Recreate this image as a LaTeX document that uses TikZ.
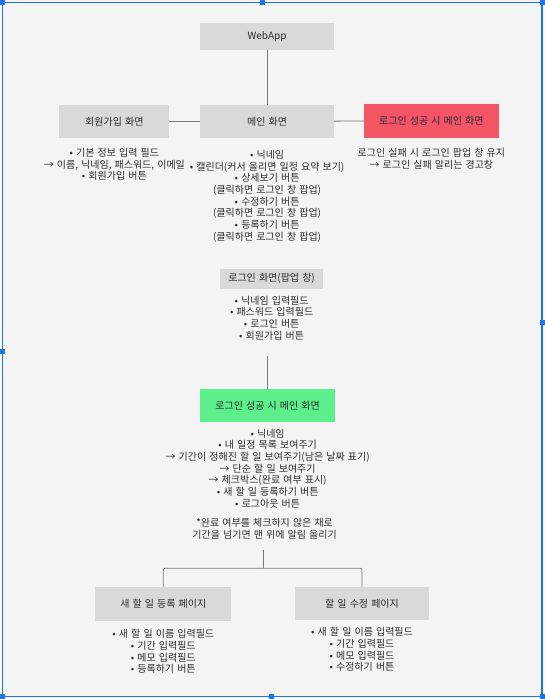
\documentclass[tikz,border=0pt]{standalone}
\usepackage{fontspec}
\setmainfont[WordSpace=1.4]{Noto Sans CJK KR}
\usetikzlibrary{positioning}
\definecolor{bggray}{HTML}{F4F4F4}
\definecolor{boxgray}{HTML}{D9D9D9}
\definecolor{failred}{HTML}{F35566}
\definecolor{okgreen}{HTML}{5CEF8C}
\definecolor{txt}{HTML}{2B2B2B}
\definecolor{linegray}{HTML}{7A7A7A}
\definecolor{selblue}{HTML}{1F74EE}
\newcommand{\boxfont}{\fontsize{10}{11.7}\selectfont}
\tikzstyle{screen} = [rectangle, text centered, fill=boxgray, text=txt, font=\boxfont, inner sep=0pt]
\tikzstyle{desc} = [align=center, text=txt, font=\boxfont, inner sep=0pt]
\tikzstyle{link} = [draw=linegray, line width=0.8pt, rounded corners=2pt]
\tikzstyle{handle} = [fill=selblue]

\begin{document}
\begin{tikzpicture}[x=1pt, y=-1pt]
  % page
  \fill[bggray] (0,0) rectangle (543,699);
  \draw[selblue, line width=1.5pt] (1,2.5) rectangle (541.5,697.5);
  \foreach \hx/\hy in {1/2.5, 261/2.5, 541.5/2.5, 1/352, 541.5/323, 1/697.5, 270/697.5, 541.5/697.5}
    \fill[handle] (\hx-2.5,\hy-2.5) rectangle (\hx+2.5,\hy+2.5);

  % top row
  \node (web) [screen, minimum width=134pt, minimum height=27pt] at (266,36.5) {WebApp};
  \node (signup) [screen, minimum width=110pt, minimum height=33pt] at (113,121.5) {회원가입 화면};
  \node (main) [screen, minimum width=134pt, minimum height=33pt] at (266,121.5) {메인 화면};
  \node (fail) [screen, fill=failred, minimum width=135pt, minimum height=34pt] at (430.5,121) {로그인 성공 시 메인 화면};

  \node (signuptext) [desc, below=10pt of signup] {• 기본 정보 입력 필드\\→ 이름, 닉네임, 패스워드, 이메일\\• 회원가입 버튼};
  \node (maintext) [desc, below=12pt of main] {• 닉네임\\• 캘린더(커서 올리면 일정 요약 보기)\\• 상세보기 버튼\\(클릭하면 로그인 창 팝업)\\• 수정하기 버튼\\(클릭하면 로그인 창 팝업)\\• 등록하기 버튼\\(클릭하면 로그인 창 팝업)};
  \node (failtext) [desc, below=10pt of fail] {로그인 실패 시 로그인 팝업 창 유지\\→ 로그인 실패 알리는 경고창};

  \draw [link] (web) -- (main);
  \draw [link] (signup) -- (main);
  \draw [link] (main) -- (fail);

  % login popup
  \node (login) [screen, minimum width=103pt, minimum height=20pt] at (270.5,279) {로그인 화면(팝업 창)};
  \node (logintext) [desc, below=7pt of login] {• 닉네임 입력필드\\• 패스워드 입력필드\\• 로그인 버튼\\• 회원가입 버튼};
  \coordinate (loginend) at (266.5,357);

  % logged in
  \node (ok) [screen, fill=okgreen, minimum width=135pt, minimum height=33pt] at (266.5,406.5) {로그인 성공 시 메인 화면};
  \node (oktext) [desc, below=6pt of ok] {• 닉네임\\• 내 일정 목록 보여주기\\→ 기간이 정해진 할 일 보여주기(남은 날짜 표기)\\→ 단순 할 일 보여주기\\→ 체크박스(완료 여부 표시)\\• 새 할 일 등록하기 버튼\\• 로그아웃 버튼};
  \node (oknote) [desc, below=10pt of oktext, xshift=-3pt] {*완료 여부를 체크하지 않은 채로\\기간을 넘기면 맨 위에 알림 올리기};

  \draw [link] (loginend) -- (ok);

  % todo pages
  \node (addpage) [screen, minimum width=136pt, minimum height=34pt] at (162,605) {새 할 일 등록 페이지};
  \node (editpage) [screen, minimum width=135pt, minimum height=33pt] at (361,604.5) {할 일 수정 페이지};
  \node (addtext) [desc, below=8pt of addpage] {• 새 할 일 이름 입력필드\\• 기간 입력필드\\• 메모 입력필드\\• 등록하기 버튼};
  \node (edittext) [desc, below=7pt of editpage] {• 새 할 일 이름 입력필드\\• 기간 입력필드\\• 메모 입력필드\\• 수정하기 버튼};

  \coordinate (split) at (262,551);
  \coordinate (fork) at (262,569);
  \draw [link] (split) -- (fork);
  \draw [link] (fork) -| (addpage.north);
  \draw [link] (fork) -| (editpage.north);
\end{tikzpicture}
\end{document}
